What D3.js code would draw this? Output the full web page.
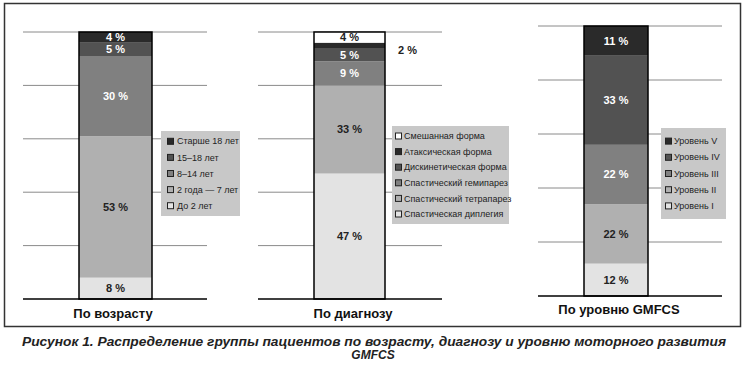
<!DOCTYPE html>
<html>
<head>
<meta charset="utf-8">
<script src="https://cdn.jsdelivr.net/npm/d3@7"></script>
<style>
  body { margin: 0; background: #fff; }
  svg { display: block; font-family: "Liberation Sans", Arial, sans-serif; }
</style>
</head>
<body>
<svg width="747" height="366"></svg>
<script>
// values, bottom segment first
var ageCats = ['До 2 лет', '2 года — 7 лет', '8–14 лет', '15–18 лет', 'Старше 18 лет'];
var ageVals = [8, 53, 30, 5, 4];

var diagCats = ['Спастическая диплегия', 'Спастический тетрапарез', 'Спастический гемипарез',
  'Дискинетическая форма', 'Атаксическая форма', 'Смешанная форма'];
var diagVals = [47, 33, 9, 5, 2, 4];

var gmfcsCats = ['Уровень I', 'Уровень II', 'Уровень III', 'Уровень IV', 'Уровень V'];
var gmfcsVals = [12, 22, 22, 33, 11];

var titles = ['По возрасту', 'По диагнозу', 'По уровню GMFCS'];
var caption1 = 'Рисунок 1. Распределение группы пациентов по возрасту, диагнозу и уровню моторного развития';
var caption2 = 'GMFCS';

var svg = d3.select('svg');

svg.append('rect')
  .attr('x', 4.5).attr('y', 3.5)
  .attr('width', 736).attr('height', 323)
  .attr('fill', 'none').attr('stroke', '#333').attr('stroke-width', 1.5);

var fill5 = ['#e3e3e3', '#b0b0b0', '#808080', '#525252', '#2a2a2a'];
var fill6 = ['#e3e3e3', '#b0b0b0', '#808080', '#525252', '#2a2a2a', '#ffffff'];

var panels = [
  { cats: ageCats, vals: ageVals, fills: fill5, dark: [false, false, true, true, true],
    grid: [23, 207], bar: [79, 152], y: [299, 32],
    leg: [161, 131, 79, 85], legStep: 16.1, sq: 6, tx: 16, title: [113, 318] },
  { cats: diagCats, vals: diagVals, fills: fill6, dark: [false, false, true, true, true, false],
    grid: [258, 442], bar: [314, 385], y: [299, 32],
    leg: [392, 126, 117, 98], legStep: 15.6, sq: 3, tx: 12, title: [353, 318], outside: 4 },
  { cats: gmfcsCats, vals: gmfcsVals, fills: fill5, dark: [false, false, true, true, true],
    grid: [538, 722], bar: [584, 648], y: [296, 26],
    leg: [661, 128, 65, 91], legStep: 16.2, sq: 4, tx: 13, title: [619, 314] }
];

panels.forEach(function (p, pi) {
  var g = svg.append('g');
  var y = d3.scaleLinear().domain([0, 100]).range(p.y);

  // gridlines
  g.selectAll('line.grid')
    .data(y.ticks(5).filter(function (t) { return t > 0; }))
    .enter().append('line')
    .attr('x1', p.grid[0]).attr('x2', p.grid[1])
    .attr('y1', function (d) { return y(d); }).attr('y2', function (d) { return y(d); })
    .attr('stroke', '#8a8a8a').attr('stroke-width', 1);

  var ends = d3.cumsum(p.vals);
  var segs = p.vals.map(function (v, i) {
    return { v: v, lo: ends[i] - v, hi: ends[i], i: i };
  });

  g.selectAll('rect.seg')
    .data(segs)
    .enter().append('rect')
    .attr('x', p.bar[0]).attr('width', p.bar[1] - p.bar[0])
    .attr('y', function (d) { return y(d.hi); })
    .attr('height', function (d) { return y(d.lo) - y(d.hi); })
    .attr('fill', function (d) { return p.fills[d.i]; });

  g.append('rect')
    .attr('x', p.bar[0]).attr('width', p.bar[1] - p.bar[0])
    .attr('y', y(100)).attr('height', y(0) - y(100))
    .attr('fill', 'none').attr('stroke', '#000').attr('stroke-width', 1.5);

  // baseline
  g.append('line')
    .attr('x1', p.grid[0]).attr('x2', p.grid[1])
    .attr('y1', y(0)).attr('y2', y(0))
    .attr('stroke', '#000').attr('stroke-width', 1.5);

  var cx = (p.bar[0] + p.bar[1]) / 2;
  g.selectAll('text.val')
    .data(segs)
    .enter().append('text')
    .attr('x', function (d) { return d.i === p.outside ? p.bar[1] + 13 : cx; })
    .attr('y', function (d) {
      return d.i === p.outside ? y(d.hi) + 7 : (y(d.lo) + y(d.hi)) / 2;
    })
    .attr('dy', '0.36em')
    .attr('text-anchor', function (d) { return d.i === p.outside ? 'start' : 'middle'; })
    .attr('font-size', 11).attr('font-weight', 'bold')
    .attr('fill', function (d) { return d.i !== p.outside && p.dark[d.i] ? '#fff' : '#222'; })
    .text(function (d) { return d.v + ' %'; });

  // legend, top item = last segment
  var lg = g.append('g');
  lg.append('rect')
    .attr('x', p.leg[0]).attr('y', p.leg[1])
    .attr('width', p.leg[2]).attr('height', p.leg[3])
    .attr('fill', '#c8c8c8');
  var items = p.cats.map(function (c, i) { return { c: c, i: i }; }).reverse();
  var firstY = p.leg[1] + (p.leg[3] - p.legStep * (items.length - 1)) / 2;
  var it = lg.selectAll('g.item')
    .data(items)
    .enter().append('g')
    .attr('transform', function (d, k) {
      return 'translate(' + p.leg[0] + ',' + (firstY + k * p.legStep) + ')';
    });
  it.append('rect')
    .attr('x', p.sq + 0.5).attr('y', -3).attr('width', 6).attr('height', 6)
    .attr('fill', function (d) { return p.fills[d.i]; })
    .attr('stroke', '#222').attr('stroke-width', 1);
  it.append('text')
    .attr('x', p.tx).attr('dy', '0.35em')
    .attr('font-size', 9).attr('fill', '#222')
    .text(function (d) { return d.c; });

  g.append('text')
    .attr('x', p.title[0]).attr('y', p.title[1])
    .attr('text-anchor', 'middle')
    .attr('font-size', 13).attr('font-weight', 'bold').attr('fill', '#111')
    .text(titles[pi]);
});

var cap = svg.append('g')
  .attr('font-family', '"Liberation Sans Narrow", "Arial Narrow", "Liberation Sans", sans-serif')
  .attr('font-size', 12).attr('font-weight', 'bold').attr('font-style', 'italic')
  .attr('fill', '#222').attr('text-anchor', 'middle');
cap.append('text').attr('x', 374).attr('y', 345.5)
  .attr('textLength', 704).attr('lengthAdjust', 'spacingAndGlyphs')
  .text(caption1);
cap.append('text').attr('x', 373).attr('y', 358.5)
  .text(caption2);
</script>
</body>
</html>
